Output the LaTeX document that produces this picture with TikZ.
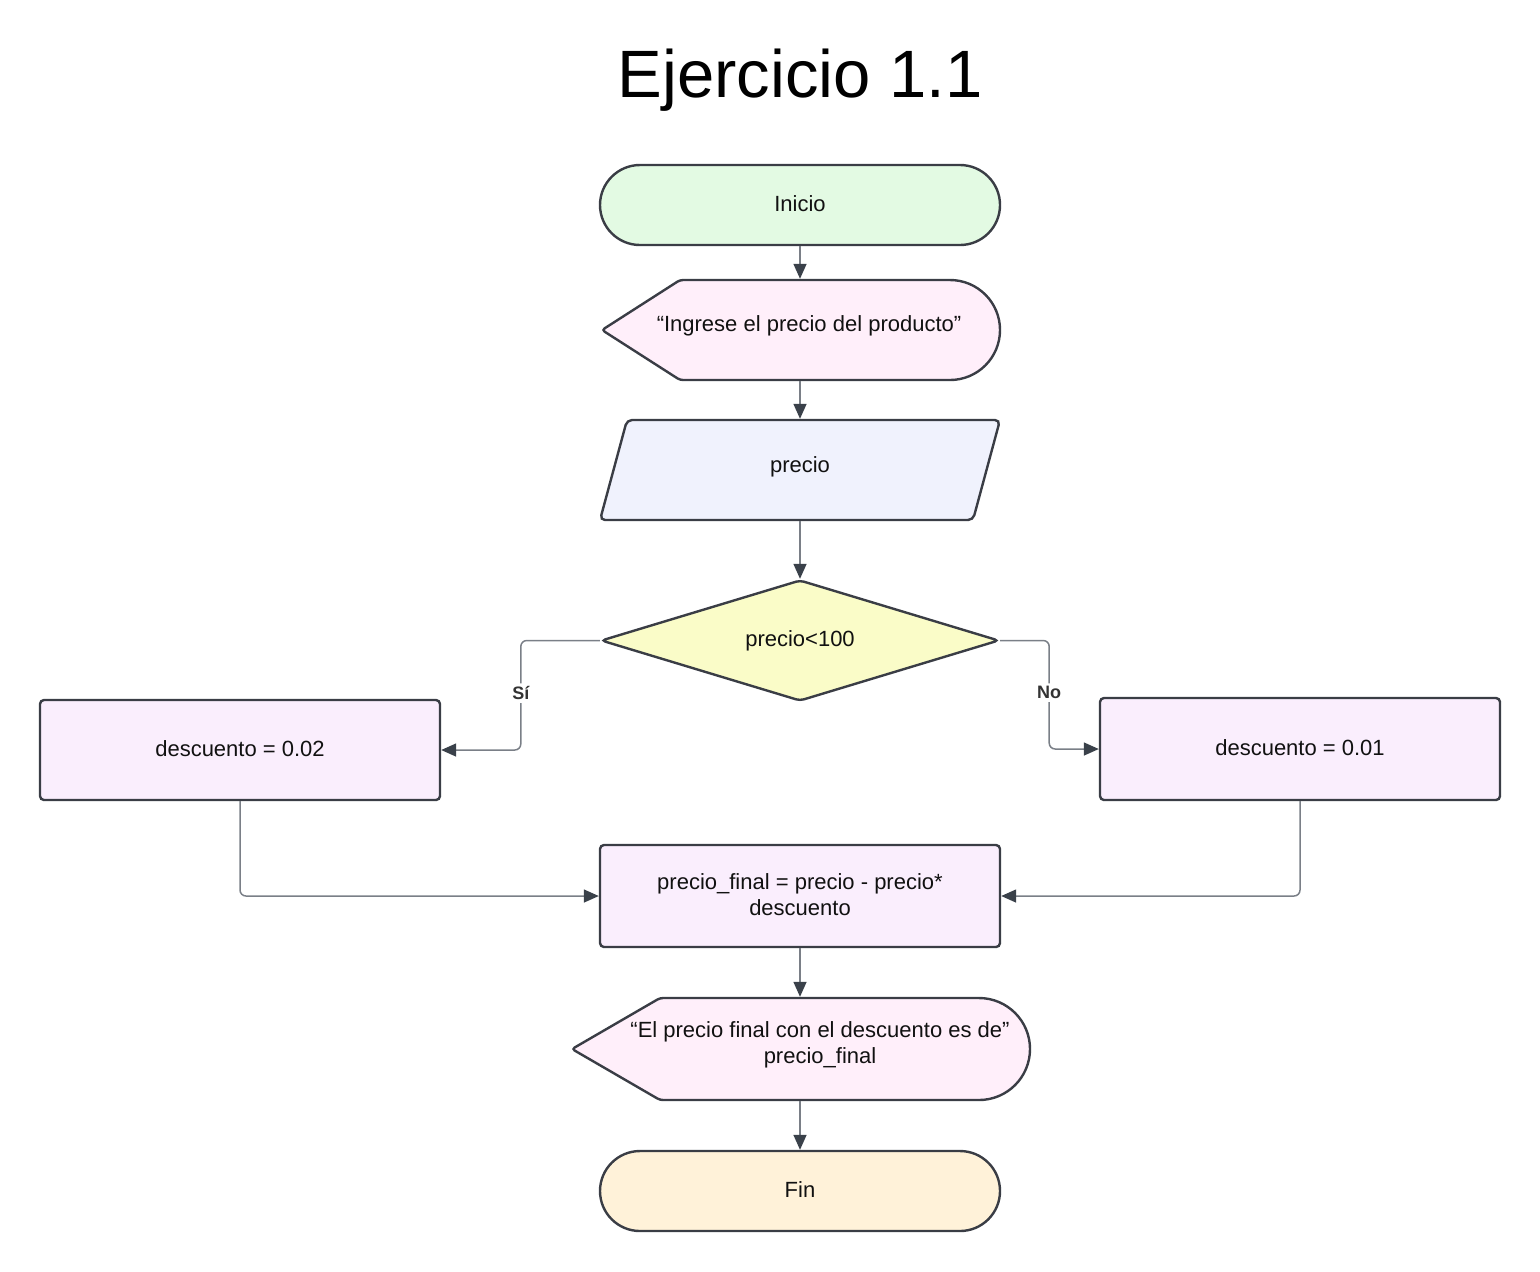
\documentclass[tikz,border=0pt]{standalone}
\usepackage{fontspec}
\setmainfont{Liberation Sans}
\usetikzlibrary{arrows.meta,shapes.geometric}
\definecolor{bordc}{HTML}{3A3D45}
\definecolor{linec}{HTML}{7A7F87}
\definecolor{arrowc}{HTML}{3A414A}
\definecolor{lblc}{HTML}{333333}
\definecolor{txtc}{HTML}{111111}
\definecolor{termc}{HTML}{E3FAE3}
\definecolor{dispc}{HTML}{FFEFFA}
\definecolor{inpc}{HTML}{F0F2FD}
\definecolor{decc}{HTML}{FAFCC8}
\definecolor{procc}{HTML}{FAEEFD}
\definecolor{finc}{HTML}{FFF2D9}
\begin{document}
\begin{tikzpicture}[x=0.5pt,y=-0.5pt,
  shapebase/.style={draw=bordc, line width=1.2pt, font=\fontsize{11}{13}\selectfont, text=txtc, align=center, inner sep=0pt, text depth=1.5pt},
  term/.style={shapebase, rounded corners=20pt, minimum width=200pt, minimum height=40pt},
  procbox/.style={shapebase, rounded corners=2pt, fill=procc, minimum width=200pt, minimum height=50pt},
  outline/.style={draw=bordc, line width=1.2pt, rounded corners=1.5pt},
  ghost/.style={inner sep=0pt, outer sep=0.6pt},
  txt/.style={font=\fontsize{11}{13}\selectfont, text=txtc, align=center, inner sep=0pt},
  flow/.style={draw=linec, line width=0.75pt, rounded corners=3pt, -{Triangle[length=7.5pt,width=6.5pt,color=arrowc]}},
  lbl/.style={fill=white, font=\bfseries\fontsize{9}{11}\selectfont, text=lblc, inner sep=1.5pt}
]
\useasboundingbox (0,0) rectangle (1540,1271);

% title
\node[anchor=base, font=\fontsize{33.5}{38}\selectfont, text=black, inner sep=0pt] (title) at (800,97) {Ejercicio 1.1};

% Inicio
\node[term, fill=termc] (ini) at (800,205) {Inicio};

% display 1
\draw[outline, fill=dispc] (602,330) -- (680,280) [rounded corners=25pt] -- (1000,280) -- (1000,380) [rounded corners=1.5pt] -- (680,380) -- cycle;
\node[ghost, minimum width=199pt, minimum height=50pt] (disp1) at (800,330) {};
\node[txt] (disp1t) at (809,326) {“Ingrese el precio del producto”};

% input parallelogram
\draw[outline, rounded corners=2.5pt, fill=inpc] (627,420) -- (1000,420) -- (973,520) -- (600,520) -- cycle;
\node[ghost, minimum width=200pt, minimum height=50pt] (inp) at (800,470) {};
\node[txt] (inpt) at (800,467) {precio};

% decision
\node[diamond, draw=bordc, line width=1.2pt, fill=decc, minimum width=199pt, minimum height=60.5pt, inner sep=0pt, aspect=3.3, rounded corners=2pt, font=\fontsize{11}{13}\selectfont, text=txtc, text depth=1.5pt] (dec) at (800,640.5) {precio<100};

% process boxes
\node[procbox] (d2) at (240,750) {descuento = 0.02};
\node[procbox, minimum height=51pt] (d1) at (1300,749) {descuento = 0.01};
\node[procbox, minimum height=51pt] (pf) at (800,896) {precio\_final = precio - precio*\\descuento};

% display 2
\draw[outline, fill=dispc] (572,1049) -- (660,998) [rounded corners=25.5pt] -- (1030,998) -- (1030,1100) [rounded corners=1.5pt] -- (660,1100) -- cycle;
\node[ghost, minimum width=229pt, minimum height=51pt] (disp2) at (800,1049) {};
\node[txt] (disp2t) at (820,1045) {“El precio final con el descuento es de”\\precio\_final};

% Fin
\node[term, fill=finc] (fin) at (800,1191) {Fin};

% connectors
\draw[flow] (ini.south) -- (disp1.north);
\draw[flow] (disp1.south) -- (inp.north);
\draw[flow] (inp.south) -- (dec.north);
\draw[flow] (dec.west) -- ++(-79,0) |- (d2.east) node[lbl, pos=0.24] {Sí};
\draw[flow] (dec.east) -- ++(49,0) |- (d1.west) node[lbl, pos=0.24] {No};
\draw[flow] (d2.south) |- (pf.west);
\draw[flow] (d1.south) |- (pf.east);
\draw[flow] (pf.south) -- (disp2.north);
\draw[flow] (disp2.south) -- (fin.north);
\end{tikzpicture}
\end{document}
